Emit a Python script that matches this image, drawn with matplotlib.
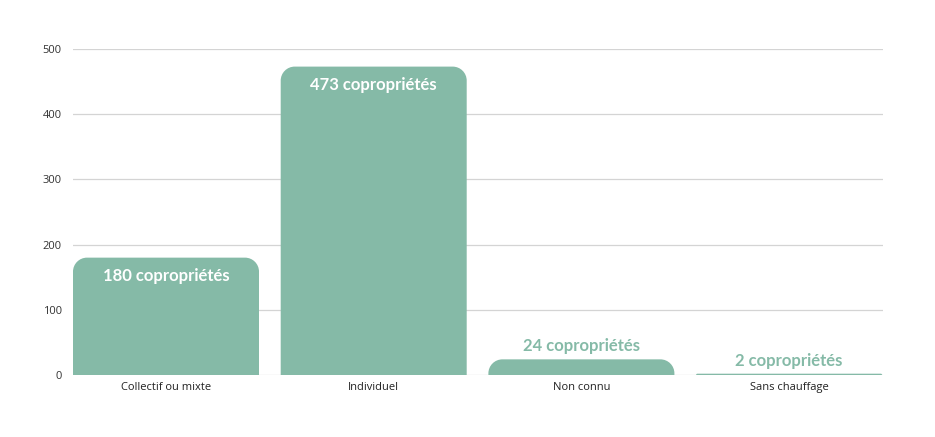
import matplotlib
matplotlib.use("Agg")
import matplotlib.pyplot as plt
from matplotlib.path import Path
from matplotlib.patches import PathPatch

categories = ["Collectif ou mixte", "Individuel", "Non connu", "Sans chauffage"]
values = [180, 473, 24, 2]
labels = ["180 copropriétés", "473 copropriétés", "24 copropriétés", "2 copropriétés"]
yticks = [0, 100, 200, 300, 400, 500]

W, H = 935, 437
fig = plt.figure(figsize=(W / 100, H / 100), dpi=100)
ax = fig.add_axes([73 / W, (H - 375) / H, (883 - 73) / W, (375 - 49) / H])
step = 207.7
ax.set_xlim(-93 / step, (883 - 166) / step)
ax.set_ylim(0, 500)

color = "#85BAA7"
bw = 186 / step
# radius in data units
rpx = 14
rx = rpx / step
ry = rpx * 500 / 326

def rounded_bar(x, h):
    x0, x1 = x - bw / 2, x + bw / 2
    r_y = min(ry, h)
    r_x = rx * (r_y / ry)
    k = 0.5523
    verts = [
        (x0, 0), (x0, h - r_y),
        (x0, h - r_y + k * r_y), (x0 + r_x - k * r_x, h), (x0 + r_x, h),
        (x1 - r_x, h),
        (x1 - r_x + k * r_x, h), (x1, h - r_y + k * r_y), (x1, h - r_y),
        (x1, 0), (x0, 0),
    ]
    codes = [Path.MOVETO, Path.LINETO,
             Path.CURVE4, Path.CURVE4, Path.CURVE4,
             Path.LINETO,
             Path.CURVE4, Path.CURVE4, Path.CURVE4,
             Path.LINETO, Path.CLOSEPOLY]
    return PathPatch(Path(verts, codes), facecolor=color, edgecolor="none", zorder=3)

for i, v in enumerate(values):
    ax.add_patch(rounded_bar(i, v))
    if v > 60:
        ax.annotate(labels[i], (i, v), xytext=(0, -18), textcoords="offset pixels",
                    ha="center", va="center", color="white", fontsize=12,
                    fontweight="bold", family=["Lato", "DejaVu Sans"], zorder=4)
    else:
        ax.annotate(labels[i], (i, v), xytext=(0, 13), textcoords="offset pixels",
                    ha="center", va="center", color=color, fontsize=12,
                    fontweight="bold", family=["Lato", "DejaVu Sans"], zorder=4)

ax.set_yticks(yticks)
ax.set_yticklabels([str(t) for t in yticks], fontsize=8, color="#333333", family="Open Sans")
ax.set_xticks(range(len(categories)))
ax.set_xticklabels(categories, fontsize=8, color="#222222", family="Open Sans")
ax.tick_params(axis="both", length=0)
ax.tick_params(axis="y", pad=8)
ax.tick_params(axis="x", pad=5)
ax.grid(axis="y", color="#d4d4d4", linewidth=0.9, zorder=0)
for s in ax.spines.values():
    s.set_visible(False)

fig.savefig("out.png", dpi=100)
